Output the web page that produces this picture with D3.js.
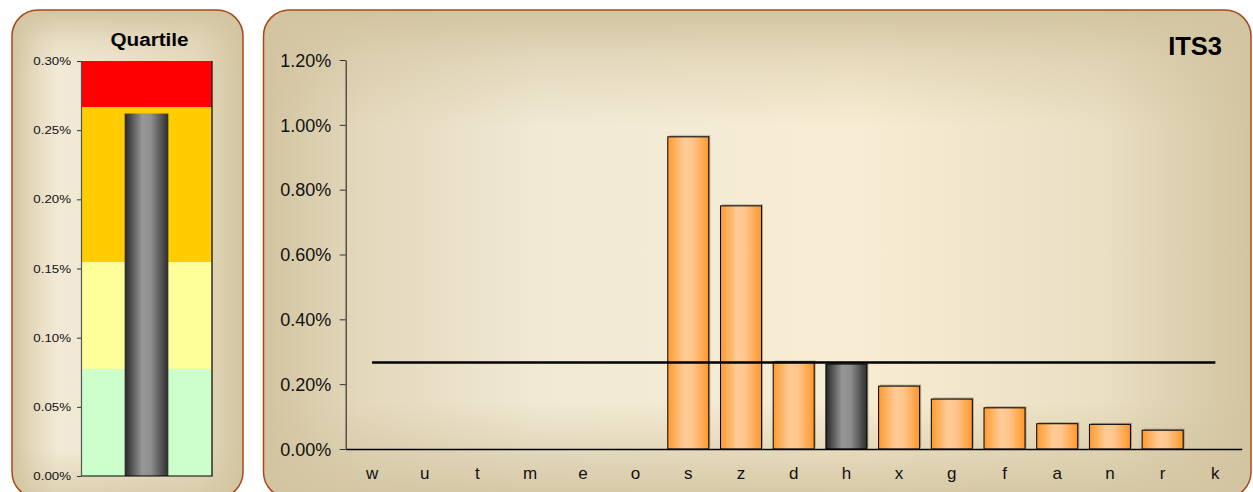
<!DOCTYPE html>
<html>
<head>
<meta charset="utf-8">
<script src="https://cdn.jsdelivr.net/npm/d3@7"></script>
<style>
  html, body { margin: 0; padding: 0; background: #ffffff; }
  svg { display: block; font-family: "Liberation Sans", Arial, sans-serif; }
</style>
</head>
<body>
<svg id="chart" width="1253" height="492"></svg>
<script>
// Category data (values in percent)
const categories = ["w","u","t","m","e","o","s","z","d","h","x","g","f","a","n","r","k"];
const values     = [0, 0, 0, 0, 0, 0, 0.963, 0.750, 0.268, 0.262, 0.194, 0.154, 0.127, 0.078, 0.076, 0.058, 0];
const highlight  = "h";
const referenceLevel = 0.2667;

// Quartile bands for the gauge panel
const quartileBounds = [0, 0.0773, 0.1547, 0.2667, 0.30];
const quartileColors = ["#CCFFCC", "#FFFF99", "#FFCC00", "#FF0000"];

// Tick values
const gaugeTicks = [0, 0.05, 0.10, 0.15, 0.20, 0.25, 0.30];
const mainTicks  = [0, 0.20, 0.40, 0.60, 0.80, 1.00, 1.20];

const mainTitle  = "ITS3";
const gaugeTitle = "Quartile";

const svg = d3.select("#chart");
const defs = svg.append("defs");
const pct = v => d3.format(".2f")(v) + "%";

// ---------- gradients ----------
function linGrad(id, horizontal, stops) {
  const g = defs.append("linearGradient").attr("id", id)
    .attr("x1", 0).attr("y1", 0)
    .attr("x2", horizontal ? 1 : 0).attr("y2", horizontal ? 0 : 1);
  stops.forEach(s => g.append("stop").attr("offset", s[0])
    .attr("stop-color", s[1]).attr("stop-opacity", s[2] === undefined ? 1 : s[2]));
}
const tan = "#D2C4A0";
linGrad("mainH", true, [[0, tan], [0.1, "#E4D8BC"], [0.28, "#F1E9D4"], [0.6, "#F8EDD4"], [0.85, "#EADFC3"], [1, tan]]);
linGrad("mainV", false, [[0, tan, 1], [0.1, tan, 0.45], [0.24, tan, 0], [0.8, tan, 0], [0.9, tan, 0.45], [1, tan, 0.9]]);
linGrad("gaugeH", true, [[0, tan], [0.1, "#E6DBC0"], [0.2, "#F2EAD6"], [0.45, "#EEE5CE"], [0.8, "#E6DBBF"], [1, tan]]);
linGrad("gaugeV", false, [[0, tan, 1], [0.06, tan, 0.3], [0.12, tan, 0], [0.9, tan, 0], [1, tan, 0.7]]);
linGrad("barOrange", true, [[0, "#FF9A2E"], [0.4, "#FFCB96"], [0.6, "#FFC68E"], [1, "#FF972A"]]);
linGrad("barGray", true, [[0, "#262626"], [0.4, "#979797"], [0.6, "#8E8E8E"], [1, "#2E2E2E"]]);

// ---------- panels ----------
function panel(id, x, y, w, h, gh, gv) {
  const cp = defs.append("clipPath").attr("id", id);
  cp.append("rect").attr("x", x).attr("y", y).attr("width", w).attr("height", h).attr("rx", 26);
  const g = svg.append("g").attr("clip-path", `url(#${id})`);
  g.append("rect").attr("x", x).attr("y", y).attr("width", w).attr("height", h).attr("fill", `url(#${gh})`);
  g.append("rect").attr("x", x).attr("y", y).attr("width", w).attr("height", h).attr("fill", `url(#${gv})`);
  svg.append("rect").attr("x", x).attr("y", y).attr("width", w).attr("height", h).attr("rx", 26)
    .attr("fill", "none").attr("stroke", "#A9481A").attr("stroke-width", 1.5);
}
panel("clipGauge", 12, 10, 231, 488, "gaugeH", "gaugeV");
panel("clipMain", 263.5, 10, 987.5, 488, "mainH", "mainV");

// ---------- gauge panel ----------
const gx0 = 81, gx1 = 212, gy0 = 61, gy1 = 476;
const gy = d3.scaleLinear().domain([0, 0.30]).range([gy1, gy0]);
const gxb = d3.scaleBand().domain([highlight]).range([gx0, gx1]).padding(0.5);
const gauge = svg.append("g");

gauge.selectAll("rect.band")
  .data(quartileColors.map((c, i) => ({ c, lo: quartileBounds[i], hi: quartileBounds[i + 1] })))
  .join("rect").attr("class", "band")
  .attr("x", gx0).attr("width", gx1 - gx0)
  .attr("y", d => gy(d.hi)).attr("height", d => gy(d.lo) - gy(d.hi))
  .attr("fill", d => d.c);

const hVal = values[categories.indexOf(highlight)];
gauge.append("rect")
  .attr("x", gxb(highlight)).attr("width", gxb.bandwidth())
  .attr("y", gy(hVal)).attr("height", gy(0) - gy(hVal))
  .attr("fill", "url(#barGray)");

// plot frame (right and bottom edges)
gauge.append("path")
  .attr("d", `M${gx1},${gy0}V${gy1}H${gx0}`)
  .attr("fill", "none").attr("stroke", "#000").attr("stroke-width", 1.2);

const gAxis = gauge.append("g").attr("transform", `translate(${gx0},0)`)
  .call(d3.axisLeft(gy).tickValues(gaugeTicks).tickFormat(pct).tickSize(4).tickSizeOuter(0));
gAxis.select(".domain").attr("stroke", "#555").attr("stroke-width", 1.2);
gAxis.selectAll(".tick line").attr("stroke", "#333");
gAxis.selectAll(".tick text")
  .attr("x", 0).attr("dy", "0.35em")
  .attr("transform", "translate(-10,0) scale(1.33,1)")
  .attr("fill", "#111").style("font-size", "10px");

gauge.append("text")
  .attr("transform", "translate(149.5,45.5) scale(1.12,1)")
  .attr("text-anchor", "middle")
  .style("font-size", "18.5px").style("font-weight", "bold")
  .attr("fill", "#000")
  .text(gaugeTitle);

// ---------- main chart ----------
const mx0 = 345.7, mx1 = 1241.7, my0 = 60, my1 = 449;
const x = d3.scaleBand().domain(categories).range([mx0, mx1]).paddingInner(0.222).paddingOuter(0.111);
const y = d3.scaleLinear().domain([0, 1.2]).range([my1, my0]);
const main = svg.append("g");
const data = categories.map((c, i) => ({ c, v: values[i] })).filter(d => d.v > 0);

// soft shadow behind each bar
main.selectAll("rect.shadow").data(data).join("rect").attr("class", "shadow")
  .attr("x", d => x(d.c) + 1.5).attr("width", x.bandwidth())
  .attr("y", d => y(d.v) - 1.5).attr("height", d => y(0) - y(d.v))
  .attr("fill", "#000").attr("opacity", 0.28);

main.selectAll("rect.bar").data(data).join("rect").attr("class", "bar")
  .attr("x", d => x(d.c)).attr("width", x.bandwidth())
  .attr("y", d => y(d.v)).attr("height", d => y(0) - y(d.v))
  .attr("fill", d => d.c === highlight ? "url(#barGray)" : "url(#barOrange)")
  .attr("stroke", "#000").attr("stroke-width", 1);

// reference level across all categories
const half = x.bandwidth() / 2;
main.append("line")
  .attr("x1", x(categories[0]) + half).attr("x2", x(categories[categories.length - 1]) + half)
  .attr("y1", y(referenceLevel)).attr("y2", y(referenceLevel))
  .attr("stroke", "#000").attr("stroke-width", 2.4);

const yAxis = main.append("g").attr("transform", `translate(${mx0},0)`)
  .call(d3.axisLeft(y).tickValues(mainTicks).tickFormat(pct).tickSize(6).tickSizeOuter(0));
yAxis.select(".domain").attr("stroke", "#333").attr("stroke-width", 1.2);
yAxis.selectAll(".tick line").attr("stroke", "#333");
yAxis.selectAll(".tick text").attr("x", -14.5).attr("dy", "0.35em")
  .attr("fill", "#111").style("font-size", "18px");

const xAxis = main.append("g").attr("transform", `translate(0,${my1})`)
  .call(d3.axisBottom(x).tickSize(0).tickPadding(0));
xAxis.select(".domain").attr("stroke", "#000").attr("stroke-width", 1.4);
xAxis.selectAll(".tick text").attr("y", 30).attr("dy", 0)
  .attr("fill", "#111").style("font-size", "17px");

main.append("text")
  .attr("x", 1222).attr("y", 55)
  .attr("text-anchor", "end")
  .style("font-size", "25.5px").style("font-weight", "bold")
  .attr("fill", "#000")
  .text(mainTitle);
</script>
</body>
</html>
